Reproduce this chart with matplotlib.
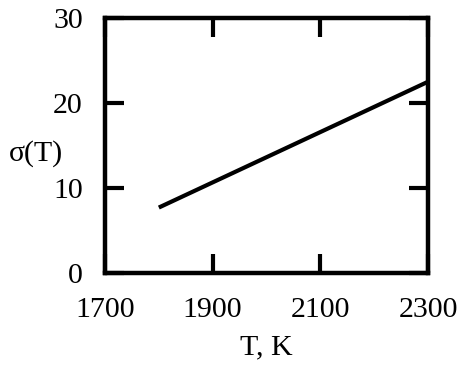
import matplotlib
matplotlib.use("Agg")
import matplotlib.pyplot as plt

T = [1800, 2300]
sigma = [7.7, 22.5]
xticks = [1700, 1900, 2100, 2300]
yticks = [0, 10, 20, 30]

plt.rcParams['font.family'] = ['Liberation Serif', 'DejaVu Serif']
fig = plt.figure(figsize=(4.74, 3.68), dpi=100)
ax = fig.add_axes([105/474, 1 - 273/368, (428-105)/474, (273-18)/368])
ax.plot(T, sigma, color='black', lw=3.0, solid_capstyle='butt', clip_on=False)
ax.set_xlim(1700, 2300)
ax.set_ylim(0, 30)
ax.set_xticks(xticks)
ax.set_yticks(yticks)
ax.tick_params(direction='in', length=14, width=3, top=True, right=True,
               labelsize=21.5, colors='black')
ax.tick_params(axis='x', pad=17)
ax.tick_params(axis='y', pad=16)
for s in ax.spines.values():
    s.set_linewidth(3.2)
ax.set_xlabel('T, K', fontsize=21.5)
ax.xaxis.set_label_coords(0.5, -0.24)
ax.set_ylabel('σ(T)', fontsize=21.5, rotation=0, va='center', ha='center')
ax.yaxis.set_label_coords(-0.215, 0.47)
fig.savefig('out.png', dpi=100)
